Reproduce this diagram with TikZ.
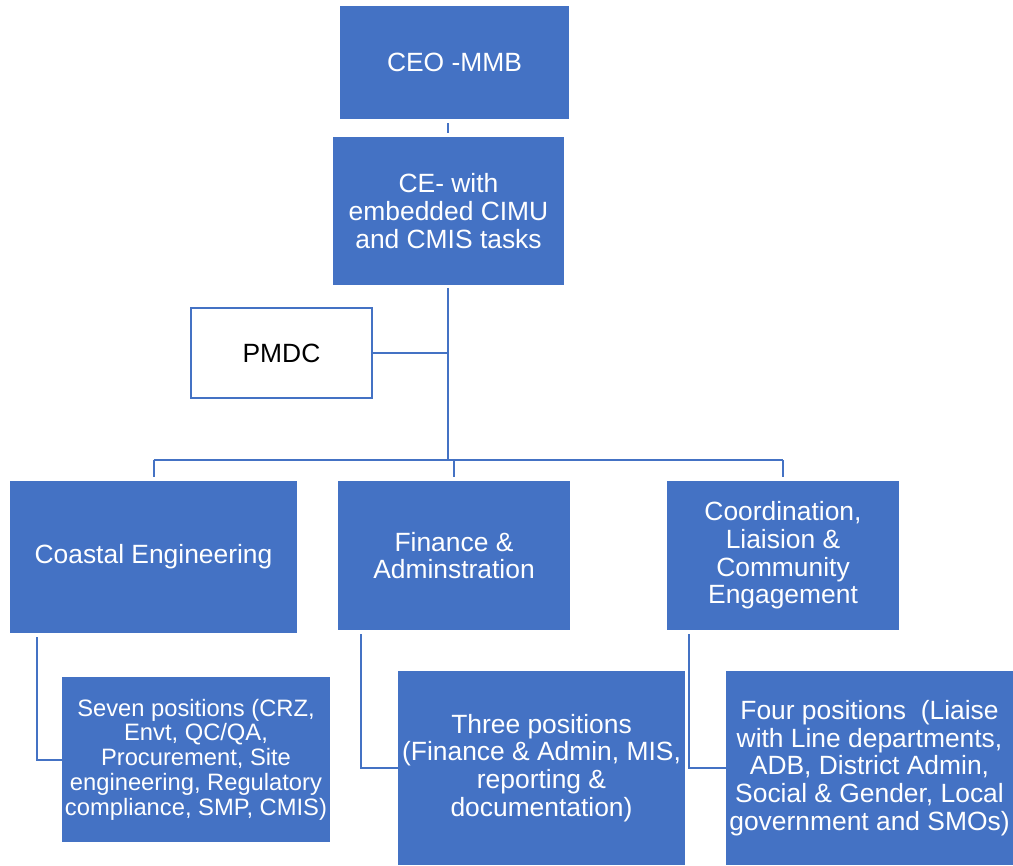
\documentclass[tikz,border=0pt]{standalone}
\usepackage{fontspec}
\setmainfont{Liberation Sans}
\usetikzlibrary{calc}
\definecolor{obl}{HTML}{4472C4}
\begin{document}
\begin{tikzpicture}[x=0.75pt,y=-0.75pt,
  box/.style={fill=obl,text=white,inner sep=0pt,align=center,
    font=\fontsize{19.8pt}{20.8pt}\selectfont},
  smallbox/.style={box,font=\fontsize{17.8pt}{18.6pt}\selectfont},
  wbox/.style={draw=obl,line width=1.5pt,fill=white,text=black,inner sep=0pt,align=center,
    font=\fontsize{19.8pt}{20.8pt}\selectfont},
  conn/.style={draw=obl,line width=1.5pt}]
\useasboundingbox (0,0) rectangle (1013,865);
\node[box,minimum width=171.75pt,minimum height=84.75pt] (ceo) at (454.5,62.5) {CEO -MMB};
\node[box,minimum width=173.25pt,minimum height=111pt] (ce) at (448.5,211) {CE- with\\embedded CIMU\\and CMIS tasks};
\node[wbox,minimum width=136pt,minimum height=67.5pt] (pmdc) at (281.5,353) {PMDC};
\node[box,minimum width=215.25pt,minimum height=114pt] (coast) at (153.5,557) {Coastal Engineering};
\node[box,minimum width=174pt,minimum height=111.75pt] (fin) at (454,555.5) {Finance \&\\Adminstration};
\node[box,minimum width=174pt,minimum height=111.75pt] (coord) at (783,555.5) {Coordination,\\Liaision \&\\Community\\Engagement};
\node[smallbox,minimum width=201pt,minimum height=123.75pt] (seven) at (196,759.5) {Seven positions (CRZ,\\Envt, QC/QA,\\Procurement, Site\\engineering, Regulatory\\compliance, SMP, CMIS)};
\node[box,minimum width=215.25pt,minimum height=145.5pt] (three) at (541.5,768) {Three positions\\(Finance \& Admin, MIS,\\reporting \&\\documentation)};
\node[box,minimum width=215.25pt,minimum height=145.5pt] (four) at (869.5,768) {Four positions\ \ (Liaise\\with Line departments,\\ADB, District Admin,\\Social \& Gender, Local\\government and SMOs)};
\coordinate (hub) at (448,460);
\coordinate (hl) at (153.5,460);
\coordinate (hr) at (783,460);
\draw[conn,shorten <=3pt,shorten >=3pt] (ceo.south -| hub) -- (ce.north -| hub);
\draw[conn,shorten <=2pt] (ce.south -| hub) -- (hub);
\draw[conn] (pmdc.east) -- (pmdc.east -| hub);
\draw[conn] (hl) -- (hr);
\draw[conn,shorten >=3pt] (hl) -- (coast.north);
\draw[conn,shorten >=3pt] (fin.north |- hub) -- (fin.north);
\draw[conn,shorten >=3pt] (hr) -- (coord.north);
\draw[conn,shorten <=3pt] ($(coast.south west)+(27,0)$) |- (seven.west);
\draw[conn,shorten <=3pt] ($(fin.south west)+(23,0)$) |- (three.west);
\draw[conn,shorten <=3pt] ($(coord.south west)+(22,0)$) |- (four.west);
\end{tikzpicture}
\end{document}
